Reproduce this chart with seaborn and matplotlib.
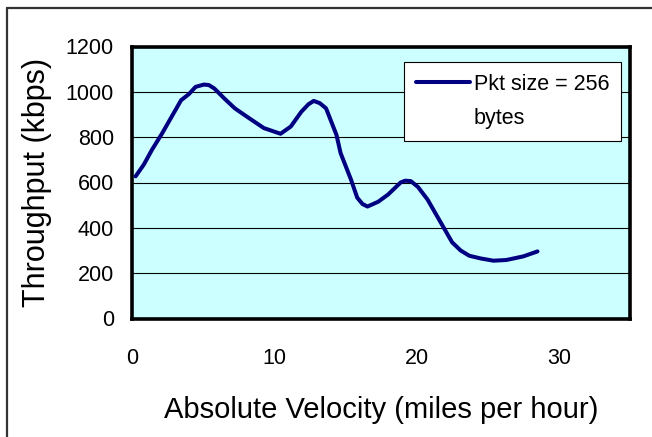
import matplotlib
matplotlib.use("Agg")
import matplotlib.pyplot as plt
import seaborn as sns
import pandas as pd
from matplotlib.lines import Line2D

velocity = [0.25, 0.83, 1.41, 2.1, 2.72, 3.45, 4.0, 4.47, 5.05, 5.4, 5.78, 6.5, 7.23, 8.25, 9.27,
            10.44, 11.16, 11.9, 12.4, 12.77, 13.2, 13.64, 14.37, 14.66, 15.39, 15.83, 16.2,
            16.55, 17.3, 18.0, 18.88, 19.2, 19.6, 20.1, 20.77, 21.64, 22.5, 23.1, 23.7, 24.5,
            25.4, 26.3, 27.5, 28.5]
throughput = [627, 679, 745, 815, 883, 963, 990, 1022, 1032, 1030, 1015, 970, 927, 883, 840,
              815, 847, 912, 945, 960, 950, 927, 810, 730, 613, 533, 505,
              494, 515, 547, 600, 608, 606, 580, 525, 430, 336, 300, 277, 265,
              255, 258, 274, 296]
series_label_lines = ["Pkt size = 256", "bytes"]
x_ticks = [0, 10, 20, 30]
y_ticks = [0, 200, 400, 600, 800, 1000, 1200]

df = pd.DataFrame({"Absolute Velocity": velocity, "Throughput": throughput})

sns.set_style("white")
plt.rcParams["font.family"] = ["Liberation Sans", "DejaVu Sans"]
plt.rcParams["text.color"] = "black"
plt.rcParams["axes.labelcolor"] = "black"
plt.rcParams["xtick.color"] = "black"
plt.rcParams["ytick.color"] = "black"

W, H = 652, 437
fig = plt.figure(figsize=(W / 100, H / 100), dpi=100)
# cropped outer chart border (top and left edges only visible)
fig.add_artist(Line2D([7 / W, 1], [1 - 8 / H, 1 - 8 / H], transform=fig.transFigure,
                      color="#333333", linewidth=1.6))
fig.add_artist(Line2D([7 / W, 7 / W], [0, 1 - 8 / H], transform=fig.transFigure,
                      color="#333333", linewidth=1.6))

ax = fig.add_axes([132 / W, 1 - 318.5 / H, (630 - 132) / W, 272 / H])
ax.set_facecolor("#CCFFFF")

sns.lineplot(data=df, x="Absolute Velocity", y="Throughput", sort=False, ax=ax,
             color="#000080", linewidth=2.9, zorder=3, legend=False)

ax.set_xlim(0, 35)
ax.set_ylim(0, 1200)
ax.set_xticks(x_ticks)
ax.set_yticks(y_ticks)
ax.yaxis.grid(True, color="black", linewidth=0.8)
ax.set_axisbelow(True)
for s in ax.spines.values():
    s.set_linewidth(2.6)
    s.set_color("black")
ax.tick_params(axis="both", direction="out", length=5, width=0.8, labelsize=15.5, color="black")
ax.tick_params(axis="x", pad=16)
ax.tick_params(axis="y", pad=8)
ax.set_xlabel("Absolute Velocity (miles per hour)", fontsize=21, labelpad=20)
ax.set_ylabel("Throughput (kbps)", fontsize=22, labelpad=10)

handles = [Line2D([], [], color="#000080", linewidth=2.9),
           Line2D([], [], color="none", linewidth=0)]
leg = ax.legend(handles, series_label_lines, loc="upper left",
                bbox_to_anchor=(404 / W, 1 - 62 / H),
                bbox_transform=fig.transFigure, fontsize=15.5, frameon=True, fancybox=False,
                framealpha=1, edgecolor="black", handlelength=2.5, borderpad=0.55,
                handletextpad=0.2, labelspacing=0.6, borderaxespad=0)
leg.get_frame().set_linewidth(0.8)

fig.savefig("out.png", dpi=100)
